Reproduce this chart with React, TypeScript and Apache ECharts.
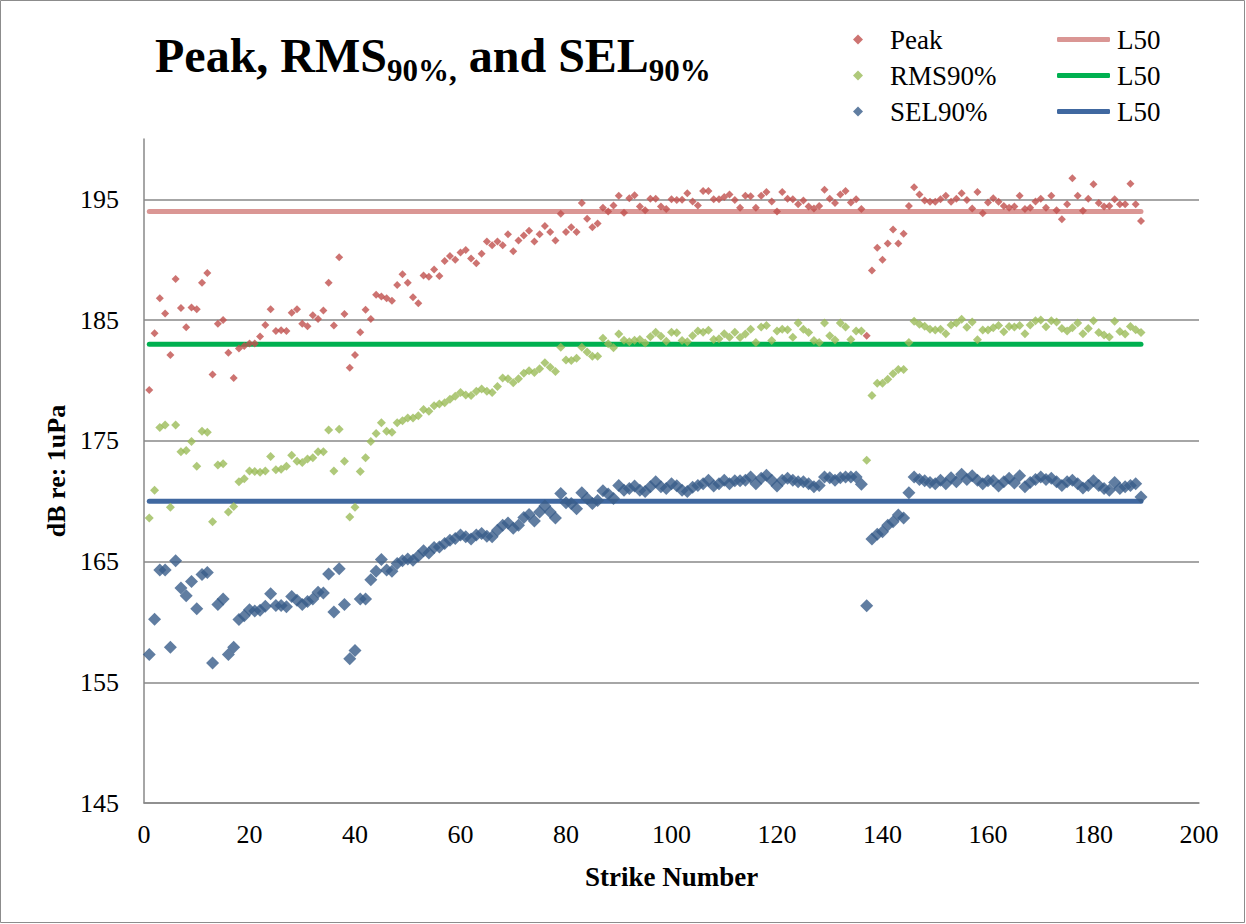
import React, { useEffect, useRef } from "react";
import * as echarts from "echarts";

const peak = [
  179.2, 183.9, 186.8, 185.55, 182.1, 188.4, 186.0, 184.4, 186.05, 185.9,
  188.1, 188.9, 180.5, 184.7, 185.0, 182.3, 180.2, 182.65, 182.85, 183.07,
  183.07, 183.65, 184.6, 185.9, 184.1, 184.15, 184.1, 185.6, 185.9, 184.7,
  184.5, 185.4, 185.1, 185.8, 188.1, 184.56, 190.2, 185.5, 181.05, 182.1,
  184.0, 185.85, 185.1, 187.1, 186.96, 186.8, 186.6, 187.9, 188.8, 188.1,
  186.9, 186.4, 188.7, 188.6, 189.2, 188.65, 189.9, 190.3, 190.0, 190.6,
  190.8, 190.1, 189.7, 190.5, 191.5, 191.2, 191.5, 191.2, 192.1, 190.7,
  191.6, 192.0, 192.4, 191.5, 192.1, 192.8, 192.3, 191.6, 193.8, 192.3,
  192.7, 192.3, 194.7, 193.4, 192.7, 193.0, 194.3, 194.0, 194.5, 195.3,
  193.9, 195.1, 195.35, 194.4, 194.1, 195.05, 195.05, 194.4, 194.2, 195.0,
  194.95, 194.97, 195.5, 194.83, 194.5, 195.7, 195.7, 195.0, 195.0, 195.2,
  195.4, 194.95, 194.3, 195.3, 195.25, 194.3, 195.3, 195.6, 194.83, 194.0,
  195.6, 195.05, 195.0, 194.6, 194.9, 194.4, 194.25, 194.45, 195.8, 195.05,
  194.7, 195.4, 195.7, 194.75, 195.0, 194.2, 183.7, 189.1, 191.0, 190.0,
  191.35, 192.5, 191.35, 192.15, 194.45, 196.0, 195.4, 194.9, 194.8, 194.8,
  195.0, 195.3, 194.8, 195.05, 195.5, 194.95, 194.25, 195.6, 193.85, 194.75,
  195.1, 194.8, 194.45, 194.3, 194.4, 195.3, 194.2, 194.3, 194.83, 195.05,
  194.3, 195.3, 194.1, 193.35, 194.6, 196.75, 195.3, 194.05, 195.05, 196.25,
  194.7, 194.4, 194.45, 195.0, 194.6, 194.6, 196.3, 194.6, 193.2,
];

const rms90 = [
  168.6, 170.9, 176.1, 176.3, 169.5, 176.3, 174.1, 174.2, 174.95, 172.9,
  175.8, 175.7, 168.3, 173.0, 173.1, 169.1, 169.56, 171.6, 171.85, 172.5,
  172.45, 172.4, 172.5, 173.7, 172.6, 172.65, 172.9, 173.8, 173.3, 173.2,
  173.5, 173.6, 174.1, 174.1, 175.9, 172.5, 175.95, 173.3, 168.7, 169.5,
  172.45, 173.6, 174.95, 175.6, 176.5, 175.8, 175.7, 176.5, 176.66, 176.9,
  176.9, 177.07, 177.6, 177.45, 177.9, 178.05, 178.15, 178.45, 178.7, 179.0,
  178.8, 178.75, 179.1, 179.3, 179.1, 179.0, 179.5, 180.2, 180.15, 179.8,
  180.15, 180.6, 180.8, 180.65, 180.97, 181.46, 181.1, 180.75, 182.76, 181.7,
  181.65, 181.83, 182.76, 182.35, 182.0, 182.0, 183.5, 183.04, 182.7, 183.84,
  183.34, 183.2, 183.34, 183.4, 183.1, 183.62, 184.0, 183.67, 183.25, 184.0,
  183.95, 183.3, 183.2, 183.7, 184.1, 184.0, 184.15, 183.4, 183.45, 183.87,
  183.57, 184.0, 183.55, 183.85, 184.25, 183.15, 184.42, 184.55, 183.3, 184.1,
  184.25, 184.2, 183.57, 184.75, 184.25, 183.97, 183.3, 183.15, 184.75, 183.7,
  183.35, 184.75, 184.42, 183.4, 184.1, 184.1, 173.4, 178.76, 179.76, 179.76,
  180.1, 180.55, 180.9, 180.9, 183.15, 184.9, 184.65, 184.5, 184.25, 184.17,
  184.25, 183.87, 184.6, 184.75, 185.08, 184.4, 184.85, 183.37, 184.17, 184.17,
  184.37, 184.55, 184.03, 184.47, 184.42, 184.55, 183.87, 184.6, 184.95, 185.0,
  184.45, 184.95, 184.85, 184.3, 184.1, 184.37, 184.75, 183.87, 184.3, 184.95,
  183.98, 183.76, 183.6, 184.9, 184.06, 183.84, 184.47, 184.2, 183.98,
];

const sel90 = [
  157.3, 160.23, 164.3, 164.3, 157.9, 165.06, 162.8, 162.16, 163.35, 161.1,
  163.93, 164.1, 156.6, 161.45, 161.9, 157.3, 157.9, 160.2, 160.5, 161.0,
  160.9, 160.97, 161.3, 162.33, 161.35, 161.35, 161.25, 162.1, 161.8, 161.45,
  161.7, 161.9, 162.46, 162.4, 163.96, 160.83, 164.4, 161.45, 156.94, 157.63,
  161.9, 161.9, 163.5, 164.2, 165.17, 164.3, 164.2, 164.84, 165.06, 165.22,
  165.1, 165.45, 165.9, 165.7, 166.17, 166.2, 166.5, 166.77, 166.9, 167.2,
  167.05, 166.87, 167.2, 167.33, 167.1, 167.05, 167.6, 168.0, 168.2, 167.75,
  168.0, 168.65, 168.9, 168.35, 169.1, 169.6, 169.1, 168.6, 170.64, 169.86,
  169.8, 169.37, 170.7, 170.23, 169.8, 170.05, 170.86, 170.6, 170.23, 171.3,
  170.9, 171.05, 171.25, 170.9, 170.8, 171.2, 171.6, 171.2, 171.05, 171.45,
  171.27, 170.9, 170.8, 171.15, 171.3, 171.45, 171.74, 171.25, 171.45, 171.74,
  171.45, 171.7, 171.7, 171.74, 172.0, 171.45, 171.9, 172.15, 171.74, 171.25,
  171.74, 171.9, 171.74, 171.6, 171.6, 171.45, 171.2, 171.3, 172.0, 171.95,
  171.74, 171.95, 172.0, 172.0, 172.0, 171.4, 161.33, 166.86, 167.27, 167.46,
  168.0, 168.3, 168.85, 168.6, 170.7, 172.0, 171.8, 171.7, 171.55, 171.45,
  171.74, 171.45, 171.95, 171.6, 172.24, 171.8, 172.1, 171.74, 171.45, 171.7,
  171.7, 171.25, 171.6, 171.9, 171.5, 172.1, 171.2, 171.55, 171.8, 172.0,
  171.8, 171.9, 171.6, 171.3, 171.6, 171.74, 171.45, 171.1, 171.3, 171.7,
  171.3, 171.05, 170.9, 171.55, 171.05, 171.2, 171.3, 171.45, 170.35,
];

const peakL50 = 194;
const rmsL50 = 183;
const selL50 = 170;

const yTicks = [145, 155, 165, 175, 185, 195];
const firstStrike = 1;

const FONT = "'Liberation Serif', 'DejaVu Serif', serif";

function pairs(vals: number[]) {
  return vals.map((v, i) => [firstStrike + i, v]);
}

function l50Line(v: number, n: number) {
  return [
    [firstStrike, v],
    [firstStrike + n - 1, v],
  ];
}

export default function App() {
  const ref = useRef<HTMLDivElement>(null);
  useEffect(() => {
    if (!ref.current) return;
    const chart = echarts.init(ref.current, undefined, { renderer: "svg" });
    const lineSeries = (name: string, v: number, color: string) => ({
      name,
      type: "line",
      data: l50Line(v, peak.length),
      symbol: "none",
      color,
      lineStyle: { color, width: 5, cap: "round" },
      z: 1,
      silent: true,
    });
    chart.setOption({
      animation: false,
      backgroundColor: "#ffffff",
      title: {
        left: 155,
        top: 24,
        padding: 0,
        text: "{a|Peak, RMS}{b|90%,}{a| and SEL}{b|90%}",
        textStyle: {
          rich: {
            a: {
              fontFamily: FONT,
              fontWeight: "bold",
              fontSize: 48,
              lineHeight: 62,
              color: "#000",
              verticalAlign: "middle",
            },
            b: {
              fontFamily: FONT,
              fontWeight: "bold",
              fontSize: 31,
              lineHeight: 27,
              color: "#000",
              verticalAlign: "bottom",
            },
          },
        },
      },
      legend: [
        {
          data: [
            { name: "Peak", icon: "diamond" },
            { name: "RMS90%", icon: "diamond" },
            { name: "SEL90%", icon: "diamond" },
          ],
          orient: "vertical",
          left: 853,
          top: 26,
          padding: 0,
          itemWidth: 10,
          itemHeight: 10,
          itemGap: 9,
          textStyle: {
            fontFamily: FONT,
            fontSize: 27,
            lineHeight: 26,
            color: "#000",
            padding: [0, 0, 0, 22],
          },
        },
        {
          data: [
            { name: "L50", icon: "roundRect" },
            { name: "L50 ", icon: "roundRect" },
            { name: "L50  ", icon: "roundRect" },
          ],
          formatter: (n: string) => n.trim(),
          orient: "vertical",
          left: 1057,
          top: 26,
          padding: 0,
          itemWidth: 53,
          itemHeight: 5,
          itemGap: 9,
          textStyle: {
            fontFamily: FONT,
            fontSize: 27,
            lineHeight: 26,
            color: "#000",
            padding: [0, 0, 0, 2],
          },
        },
      ],
      grid: { left: 144, right: 47, top: 139, bottom: 121, containLabel: false },
      xAxis: {
        type: "value",
        min: 0,
        max: 200,
        interval: 20,
        name: "Strike Number",
        nameLocation: "middle",
        nameGap: 60,
        nameTextStyle: {
          fontFamily: FONT,
          fontWeight: "bold",
          fontSize: 27,
          color: "#000",
        },
        axisLine: { lineStyle: { color: "#898989", width: 1.5 } },
        axisTick: { show: false },
        splitLine: { show: false },
        axisLabel: {
          fontFamily: FONT,
          fontSize: 26,
          color: "#000",
          margin: 18,
        },
      },
      yAxis: {
        type: "value",
        min: 145,
        max: 200,
        name: "dB re: 1uPa",
        nameLocation: "middle",
        nameGap: 72,
        nameTextStyle: {
          fontFamily: FONT,
          fontWeight: "bold",
          fontSize: 26,
          color: "#000",
        },
        axisLine: { show: true, lineStyle: { color: "#898989", width: 1.5 } },
        axisTick: { show: false, customValues: yTicks },
        splitLine: { show: true, lineStyle: { color: "#898989", width: 1.5 } },
        axisLabel: {
          customValues: yTicks,
          fontFamily: FONT,
          fontSize: 26,
          color: "#000",
          margin: 25,
        },
      },
      series: [
        lineSeries("L50", peakL50, "#DA9694"),
        lineSeries("L50 ", rmsL50, "#00B050"),
        lineSeries("L50  ", selL50, "#4068A0"),
        {
          name: "Peak",
          type: "scatter",
          data: pairs(peak),
          symbol: "diamond",
          symbolSize: 8,
          color: "#C0504D",
          itemStyle: { color: "#C0504D" },
          z: 4,
        },
        {
          name: "RMS90%",
          type: "scatter",
          data: pairs(rms90),
          symbol: "diamond",
          symbolSize: 9,
          color: "#9BBB59",
          itemStyle: { color: "#9BBB59" },
          z: 3,
        },
        {
          name: "SEL90%",
          type: "scatter",
          data: pairs(sel90),
          symbol: "diamond",
          symbolSize: 13,
          color: "#385D8A",
          itemStyle: { color: "#385D8A" },
          z: 2,
        },
      ],
      graphic: [
        {
          type: "rect",
          shape: { x: 0.5, y: 0.5, width: 1244, height: 922 },
          style: { fill: "none", stroke: "#8c8c8c", lineWidth: 1 },
          silent: true,
        },
      ],
    });
    return () => chart.dispose();
  }, []);
  return (
    <div
      ref={ref}
      style={{ position: "fixed", left: 0, top: 0, width: 1246, height: 924 }}
    />
  );
}
